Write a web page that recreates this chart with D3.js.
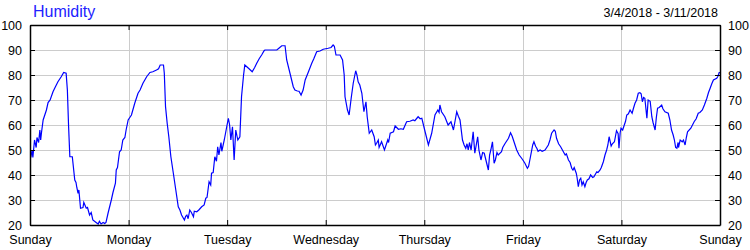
<!DOCTYPE html>
<html>
<head>
<meta charset="utf-8">
<script src="https://cdn.jsdelivr.net/npm/d3@7"></script>
<style>
  html, body { margin: 0; padding: 0; background: #fff; }
  svg text { font-family: "Liberation Sans", Arial, sans-serif; font-size: 12.5px; fill: #000; }
</style>
</head>
<body>
<svg id="chart" width="750" height="250"></svg>
<script>
const title = "Humidity";
const dateRange = "3/4/2018 - 3/11/2018";
const dayLabels = ["Sunday","Monday","Tuesday","Wednesday","Thursday","Friday","Saturday","Sunday"];
const yTicks = [20,30,40,50,60,70,80,90,100];
// hours since Sunday 3/4/2018 00:00
const hours = [0.2,0.5,0.7,1.1,1.5,1.7,2.1,2.4,2.6,2.8,3.2,4.0,4.4,4.9,5.6,6.1,6.8,7.6,8.2,8.8,9.1,9.4,9.7,10.3,10.9,11.2,11.4,11.7,11.9,12.3,12.9,13.1,13.7,14.0,14.5,14.9,15.3,16.1,16.6,16.9,17.3,17.8,18.2,18.5,19.0,19.8,20.2,20.8,21.0,21.3,21.8,22.2,22.6,23.1,23.4,23.9,24.3,24.7,25.5,26.3,26.8,27.5,28.4,29.2,29.9,30.8,31.3,31.7,32.5,32.7,33.0,33.4,33.8,34.3,34.9,35.5,36.1,36.5,36.9,37.6,37.9,38.2,38.5,38.9,39.3,39.8,40.0,40.6,41.1,41.8,42.4,42.8,43.1,43.6,44.0,44.2,44.6,45.0,45.4,45.7,46.0,46.5,46.7,47.3,47.9,48.3,48.6,48.9,49.3,49.7,50.1,50.6,51.1,51.5,52.0,52.3,53.2,54.1,54.7,55.2,55.8,56.4,57.0,57.2,60.1,60.6,61.3,62.1,62.5,63.3,64.1,64.5,65.1,65.5,66.0,66.5,67.0,67.8,68.6,69.1,69.8,70.6,71.4,72.6,73.3,73.8,74.1,74.5,75.5,76.1,76.5,76.7,77.3,77.7,78.2,78.7,79.3,79.6,79.9,80.3,80.8,81.3,81.8,82.1,82.6,83.2,83.8,84.1,84.4,84.8,85.0,85.6,86.3,86.7,87.1,87.3,87.7,88.5,88.9,89.7,90.3,90.9,91.7,92.5,93.3,93.7,94.5,95.0,95.4,96.2,97.0,97.8,98.6,99.3,99.6,99.8,100.2,101.0,101.8,102.5,103.1,103.9,104.3,104.7,105.3,105.7,106.1,106.4,106.7,107.0,107.4,107.9,108.3,109.0,109.3,109.8,110.2,110.6,111.0,111.6,111.9,112.2,112.6,113.0,113.3,113.7,114.0,114.8,115.1,115.7,116.5,117.0,117.4,117.7,118.1,118.5,119.1,119.7,120.0,120.5,121.1,121.4,121.7,122.4,122.7,123.1,123.4,123.7,124.2,124.7,125.4,126.2,126.6,127.0,127.6,127.9,128.2,128.7,129.2,129.8,130.3,130.6,131.1,131.5,131.9,132.2,132.5,133.0,133.2,133.5,133.8,134.1,134.4,134.7,135.1,135.4,135.7,136.1,136.5,137.0,137.3,138.0,138.3,138.8,139.1,139.6,140.0,140.4,140.7,141.0,141.5,141.8,142.3,142.8,143.2,143.4,143.7,143.9,144.3,144.7,145.0,145.3,145.7,146.1,146.6,146.9,147.3,147.7,148.1,148.5,148.8,149.1,149.4,149.7,150.2,150.5,151.0,151.4,151.7,152.2,152.5,152.8,153.2,153.8,154.1,154.6,155.4,155.8,156.2,156.6,156.9,157.2,157.5,157.8,157.9,158.3,158.8,159.1,159.5,159.8,160.1,160.9,161.7,162.2,162.7,163.1,163.7,164.2,164.8,165.2,165.6,166.0,166.4,167.2,167.5,167.8,168.0];
const humidity = [47,50,47,54,51,55,53,58,54,57,62,66,69,70,73.3,75,77.3,79.3,81,80.7,74,59.3,47.3,47.3,38,37,35,32.7,34,26.7,27,29,26.7,27,24,25,22,21,20.4,21.5,20.4,21,20.6,21,24.7,30,33,36.7,42,43,49.3,50,54,55,58,62,63,64,68.7,72.7,74,76.7,79.3,81,81.3,82,82.5,84,84,80.7,67.3,60.7,55.3,47.3,40.7,34,27.3,26,24,22,23.5,24,22.5,26,25,23.3,25.5,25.3,26,27.3,28,30.7,31,37.3,36,40.7,41,47.3,45.5,51.3,48,53,49.5,54,59.3,62.7,60,54,59.3,46,58,54,55.3,71.3,80,84,82.7,81.3,83,84.7,86.5,88,89.7,90,90,90.7,91.7,91.7,86,80.7,75.3,74,73.6,73.5,72,74,78,81.3,84.7,86.5,89.3,89.6,90.3,90.7,91,92,91.5,88,88,86,80,71.3,66,64,70.7,76.7,81.7,80,77.3,76,72.7,65.3,69.3,63.3,56.7,58,55.3,52,52.7,54,51,53.3,50,52,54,53,56.7,57.3,59.6,58.3,58.5,58.3,61.3,61.5,62,61.7,63.3,62.5,62.7,57.3,52,56.7,64,66,65,68,65.3,63.3,60,61.3,58,65.3,63.5,62,54,52,50.7,52.5,50,53,50,57.3,48.7,55.3,50,46,49,48.7,46,42,48,50,53.3,44.7,46,49,48,49.3,51,52.7,54.7,56.9,55.5,54,52,50,48,46.7,46,44.7,42.7,43.5,46,52,53.3,51.5,50.7,49.5,50,49.5,50,52,54,56.7,58,57.5,54.7,52.5,51.3,49.5,48,48.5,46,45,42.7,42,43,40.7,39,35.3,38,38.7,36,37.3,35.3,37,38,38.5,40,39,39.3,41.3,41,42,43,45.3,48,50,52,55.3,51.6,52.5,53.3,57.7,56.5,50.7,57,58.7,58,60,61.5,64,64.5,66,64.7,66.5,68.7,70,72.7,72.9,72.5,69.3,71,70.7,62.7,70,69.5,63.3,61,58,63,66.7,67,68,66.5,65.3,64.7,62,58,56,54,51,50.7,53,51,54,53.3,54,52,55,57.3,58.7,61.3,62.5,64.7,65,66,68,70.7,73,74.7,76.5,78,78.7,79.5,81,81];

const svg = d3.select("#chart");
const m = {left: 30, right: 30, top: 25, bottom: 25};
const W = 750, H = 250;
const start = new Date(2018, 2, 4);
const end = new Date(2018, 2, 11);
const x = d3.scaleTime().domain([start, end]).range([m.left, W - m.right]);
const y = d3.scaleLinear().domain([20, 100]).range([H - m.bottom, m.top]);
const days = d3.timeDay.range(start, d3.timeDay.offset(end, 1));

// gridlines
const grid = svg.append("g");
grid.selectAll("line.v").data(days).join("line").attr("class", "v")
  .attr("x1", d => Math.round(x(d)) + 0.5).attr("x2", d => Math.round(x(d)) + 0.5)
  .attr("y1", y(100)).attr("y2", y(20))
  .attr("stroke", "#cccccc").attr("stroke-width", 1);
grid.selectAll("line.h").data(yTicks).join("line").attr("class", "h")
  .attr("x1", x(start)).attr("x2", x(end))
  .attr("y1", d => Math.round(y(d)) + 0.5).attr("y2", d => Math.round(y(d)) + 0.5)
  .attr("stroke", "#cccccc").attr("stroke-width", 1);

// data line
const data = hours.map((h, i) => ({t: new Date(start.getTime() + h * 3600000), v: humidity[i]}));
svg.append("path").datum(data)
  .attr("fill", "none").attr("stroke", "#0000ff").attr("stroke-width", 1.2)
  .attr("d", d3.line().x(d => x(d.t)).y(d => y(d.v)));

// axes
const axB = svg.append("g").attr("transform", `translate(0,${y(20)})`)
  .call(d3.axisBottom(x).tickValues(days).tickSizeInner(-5).tickSizeOuter(0).tickPadding(10).tickFormat((d, i) => dayLabels[i]));
const axT = svg.append("g").attr("transform", `translate(0,${y(100)})`)
  .call(d3.axisTop(x).tickValues(days).tickSizeInner(-5).tickSizeOuter(0).tickFormat(""));
const axL = svg.append("g").attr("transform", `translate(${x(start)},0)`)
  .call(d3.axisLeft(y).tickValues(yTicks).tickSizeInner(-5).tickSizeOuter(0).tickPadding(8));
const axR = svg.append("g").attr("transform", `translate(${x(end)},0)`)
  .call(d3.axisRight(y).tickValues(yTicks).tickSizeInner(-5).tickSizeOuter(0).tickPadding(8));
[axB, axT, axL, axR].forEach(a => {
  a.selectAll("path.domain").attr("stroke", "#000").attr("stroke-width", 1.5);
  a.selectAll(".tick line").attr("stroke", "#000");
  a.selectAll("text").attr("font-family", "Liberation Sans, Arial, sans-serif").attr("font-size", "12.5px").attr("fill", "#000");
});

svg.append("text").attr("x", 33).attr("y", 17).text(title)
  .style("font-size", "16px").style("fill", "#2222ff");
svg.append("text").attr("x", 718).attr("y", 17).attr("text-anchor", "end").text(dateRange);
</script>
</body>
</html>
